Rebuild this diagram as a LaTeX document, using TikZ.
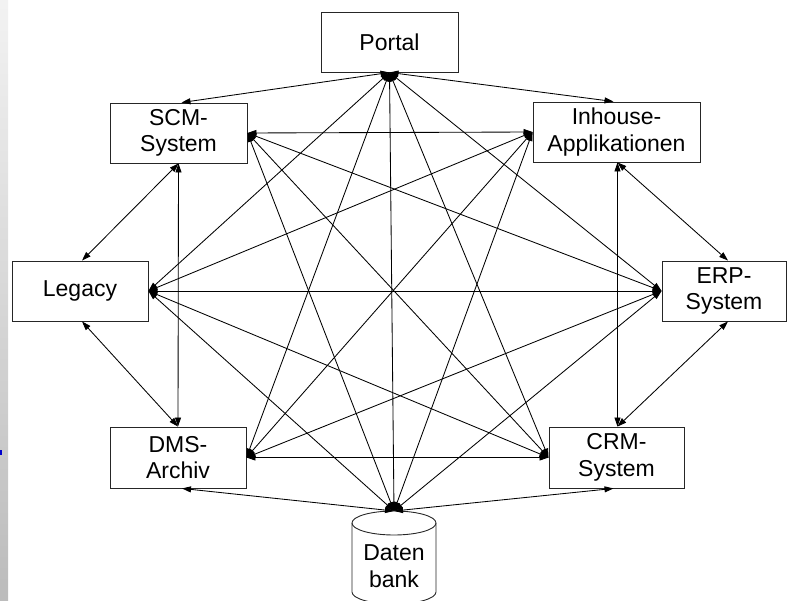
\documentclass[tikz,border=0pt]{standalone}
\usepackage{fontspec}
\setmainfont{Liberation Sans}
\usetikzlibrary{arrows.meta}
\begin{document}
\begin{tikzpicture}[x=1pt,y=-1pt,
  box/.style={draw=black!85,line width=0.9pt,fill=white,inner sep=0pt,align=center,
    font=\fontsize{23}{26.5}\selectfont},
  link/.style={line width=0.85pt,{Triangle[length=9pt,width=6pt]}-{Triangle[length=9pt,width=6pt]}}]
\useasboundingbox (0,0) rectangle (787,601);
\shade[top color=gray!10,bottom color=gray!53] (0,0) rectangle (8,601);
\fill[blue!80!black] (0,450) rectangle (2,455);
% nodes
\node[box,minimum width=137pt,minimum height=60pt] (portal) at (389.5,42) {Portal};
\node[box,minimum width=137pt,minimum height=60pt] (scm) at (178.5,133) {SCM-\\System};
\node[box,minimum width=167pt,minimum height=60pt] (inh) at (616.5,132) {Inhouse-\\Applikationen};
\node[box,minimum width=136pt,minimum height=60pt] (leg) at (80,291) {Legacy};
\node[box,minimum width=124pt,minimum height=60pt] (erp) at (724,291) {ERP-\\System};
\node[box,minimum width=136pt,minimum height=61pt] (dms) at (178,457.5) {DMS-\\Archiv};
\node[box,minimum width=135pt,minimum height=61pt] (crm) at (616.5,457.5) {CRM-\\System};
% database cylinder
\draw[draw=black!85,line width=0.9pt] (352,523) -- (352,592) arc[start angle=180,end angle=360,x radius=42pt,y radius=12pt] -- (436,523);
\draw[draw=black!85,line width=0.9pt] (394,523) ellipse [x radius=42pt,y radius=12pt];
\node[inner sep=0pt,align=center,font=\fontsize{23}{26.5}\selectfont] (db) at (394,566) {Daten\\bank};
\coordinate (dbt) at (394,511);
% connectors
\draw[link] (portal.south) -- ([xshift=3pt]scm.north);
\draw[link] (portal.south) -- ([xshift=-3pt]inh.north);
\draw[link] (portal.south) -- (leg.east);
\draw[link] (portal.south) -- (dms.east);
\draw[link] (portal.south) -- (dbt);
\draw[link] (portal.south) -- (crm.west);
\draw[link] (portal.south) -- (erp.west);
\draw[link] (scm.south) -- ([xshift=2pt]leg.north);
\draw[link] (scm.south) -- (dms.north);
\draw[link] (scm.east) -- (inh.west);
\draw[link] (scm.east) -- (erp.west);
\draw[link] (scm.east) -- (crm.west);
\draw[link] (scm.east) -- (dbt);
\draw[link] ([xshift=1pt]inh.south) -- ([xshift=4pt]erp.north);
\draw[link] ([xshift=1pt]inh.south) -- ([xshift=1pt]crm.north);
\draw[link] (inh.west) -- (leg.east);
\draw[link] (inh.west) -- (dms.east);
\draw[link] (inh.west) -- (dbt);
\draw[link] ([xshift=2pt]leg.south) -- (dms.north);
\draw[link] (leg.east) -- (erp.west);
\draw[link] (leg.east) -- (crm.west);
\draw[link] (leg.east) -- (dbt);
\draw[link] ([xshift=4pt]erp.south) -- ([xshift=1pt]crm.north);
\draw[link] (erp.west) -- (dms.east);
\draw[link] (erp.west) -- (dbt);
\draw[link] ([xshift=4pt]dms.south) -- (dbt);
\draw[link] (dms.east) -- (crm.west);
\draw[link] ([xshift=-3pt]crm.south) -- (dbt);
\end{tikzpicture}
\end{document}
